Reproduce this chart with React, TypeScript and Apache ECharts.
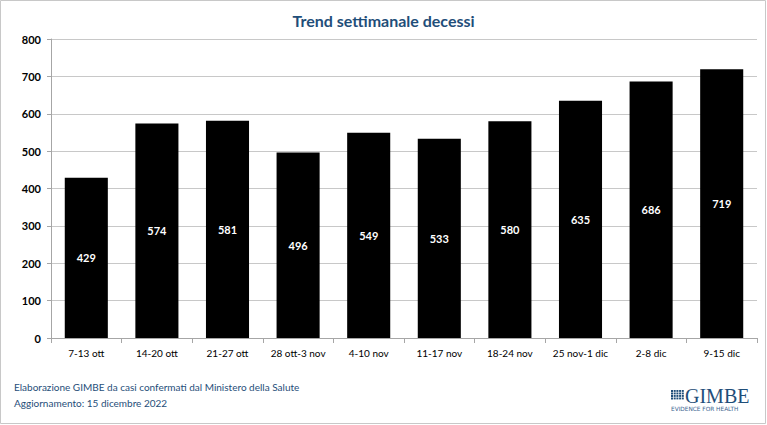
import React, { useEffect, useRef } from "react";
import * as echarts from "echarts";

const categories = [
  "7-13 ott",
  "14-20 ott",
  "21-27 ott",
  "28 ott-3 nov",
  "4-10 nov",
  "11-17 nov",
  "18-24 nov",
  "25 nov-1 dic",
  "2-8 dic",
  "9-15 dic",
];
const deaths = [429, 574, 581, 496, 549, 533, 580, 635, 686, 719];
const yTicks = { min: 0, max: 800, interval: 100 };

const titleText = "Trend settimanale decessi";
const footLines = [
  "Elaborazione GIMBE da casi confermati dal Ministero della Salute",
  "Aggiornamento: 15 dicembre 2022",
];

const FONT = "Lato, 'Open Sans', sans-serif";
const BLUE = "#1F4E79";

export default function App() {
  const ref = useRef<HTMLDivElement>(null);

  useEffect(() => {
    document.body.style.margin = "0";
    if (!ref.current) return;
    const chart = echarts.init(ref.current, undefined, { renderer: "svg" });

    // small square grid of the logo mark
    const logoCells: any[] = [];
    for (let r = 0; r < 4; r++) {
      for (let c = 0; c < 5; c++) {
        logoCells.push({
          type: "rect",
          shape: { x: 671 + c * 2.7, y: 390 + r * 2.5, width: 2, height: 1.9 },
          style: { fill: BLUE },
        });
      }
    }

    chart.setOption({
      animation: false,
      backgroundColor: "#ffffff",
      textStyle: { fontFamily: FONT },
      title: {
        text: titleText,
        left: "center",
        top: 7,
        textStyle: { fontFamily: FONT, fontSize: 16, fontWeight: "bold", color: BLUE },
      },
      grid: { left: 51, right: 10, top: 39, bottom: 87, containLabel: false },
      xAxis: {
        type: "category",
        data: categories,
        axisLine: { lineStyle: { color: "#a6a6a6" } },
        axisTick: { show: true, alignWithLabel: false, length: 5, lineStyle: { color: "#a6a6a6" } },
        axisLabel: { color: "#000", fontSize: 10, fontFamily: FONT, margin: 10, interval: 0 },
      },
      yAxis: {
        type: "value",
        min: yTicks.min,
        max: yTicks.max,
        interval: yTicks.interval,
        axisLine: { show: true, lineStyle: { color: "#a6a6a6" } },
        axisTick: { show: true, length: 4, lineStyle: { color: "#a6a6a6" } },
        axisLabel: { color: "#000", fontSize: 11, fontWeight: "bold", fontFamily: FONT, margin: 10 },
        splitLine: { lineStyle: { color: "#c8c8c8" } },
      },
      series: [
        {
          type: "bar",
          data: deaths,
          barWidth: "61%",
          itemStyle: { color: "#000000" },
          label: {
            show: true,
            position: "inside",
            color: "#ffffff",
            fontSize: 11,
            fontWeight: "bold",
            fontFamily: FONT,
          },
        },
      ],
      graphic: [
        {
          type: "rect",
          shape: { x: 0.5, y: 0.5, width: 765, height: 423 },
          style: { fill: "none", stroke: "#c8c8c8", lineWidth: 1 },
          silent: true,
        },
        {
          type: "text",
          left: 14,
          top: 382,
          style: { text: footLines[0], fontSize: 10, fontFamily: FONT, fill: BLUE },
        },
        {
          type: "text",
          left: 14,
          top: 398,
          style: { text: footLines[1], fontSize: 10, fontFamily: FONT, fill: BLUE },
        },
        ...logoCells,
        {
          type: "text",
          left: 685,
          top: 386,
          style: {
            text: "GIMBE",
            fontSize: 20,
            fontFamily: "'Liberation Serif', serif",
            fill: BLUE,
          },
        },
        {
          type: "text",
          left: 671,
          top: 406,
          style: {
            text: "EVIDENCE FOR HEALTH",
            fontSize: 5.8,
            fontFamily: "'DejaVu Sans', sans-serif",
            fill: "#3d6590",
          },
        },
      ],
    });
    return () => chart.dispose();
  }, []);

  return <div ref={ref} style={{ width: 767, height: 425 }} />;
}
